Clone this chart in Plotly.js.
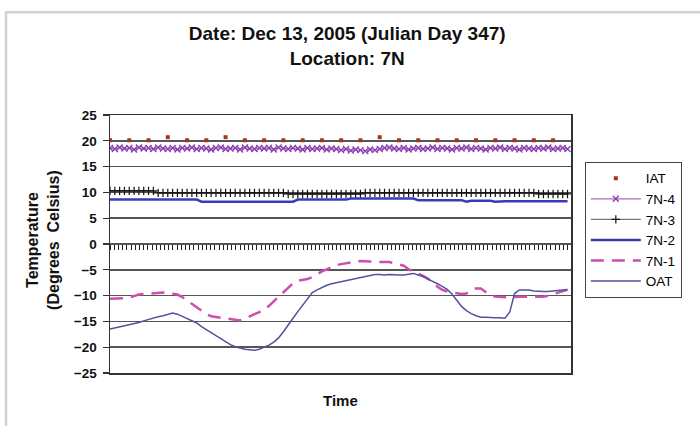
<!DOCTYPE html>
<html>
<head>
<meta charset="utf-8">
<script src="https://cdn.plot.ly/plotly-3.0.1.min.js"></script>
<style>html,body{margin:0;padding:0;background:#fff;}#chart{width:700px;height:426px;}</style>
</head>
<body>
<div id="chart"></div>
<script>
// Time of day (hours), 15-minute samples
const hours = [0,0.25,0.5,0.75,1,1.25,1.5,1.75,2,2.25,2.5,2.75,3,3.25,3.5,3.75,
4,4.25,4.5,4.75,5,5.25,5.5,5.75,6,6.25,6.5,6.75,7,7.25,7.5,7.75,
8,8.25,8.5,8.75,9,9.25,9.5,9.75,10,10.25,10.5,10.75,11,11.25,11.5,11.75,
12,12.25,12.5,12.75,13,13.25,13.5,13.75,14,14.25,14.5,14.75,15,15.25,15.5,15.75,
16,16.25,16.5,16.75,17,17.25,17.5,17.75,18,18.25,18.5,18.75,19,19.25,19.5,19.75,
20,20.25,20.5,20.75,21,21.25,21.5,21.75,22,22.25,22.5,22.75,23,23.25,23.5,23.75];

// Hourly indoor air temperature
const iatHours = [0,1,2,3,4,5,6,7,8,9,10,11,12,13,14,15,16,17,18,19,20,21,22,23];
const iat = [20.1,20.1,20.1,20.7,20.1,20.1,20.7,20.1,20.1,20.1,20.1,20.1,20.1,20.1,20.7,20.1,20.1,20.1,20.1,20.1,20.1,20.1,20.1,20.1];

const s7N4 = [18.6,18.4,18.7,18.5,18.6,18.3,18.7,18.5,18.6,18.4,18.7,18.5,18.4,18.6,18.3,18.6,
18.5,18.7,18.4,18.6,18.5,18.3,18.6,18.7,18.4,18.5,18.6,18.3,18.7,18.5,18.4,18.6,
18.5,18.6,18.3,18.7,18.5,18.4,18.6,18.5,18.3,18.6,18.4,18.5,18.6,18.3,18.5,18.4,
18.2,18.4,18.1,18.3,18.2,18.0,18.3,18.2,18.4,18.6,18.7,18.5,18.4,18.6,18.3,18.5,
18.6,18.4,18.5,18.7,18.4,18.6,18.5,18.3,18.6,18.5,18.7,18.4,18.6,18.5,18.3,18.6,
18.5,18.7,18.4,18.6,18.5,18.3,18.6,18.5,18.4,18.6,18.5,18.7,18.4,18.5,18.6,18.4];

const s7N3 = [10.3,10.3,10.3,10.3,10.3,10.3,10.3,10.3,10.3,10.3,
9.9,9.9,9.9,9.9,9.9,9.9,9.9,9.9,9.9,9.9,9.9,9.9,9.9,9.9,9.9,9.9,9.9,9.9,9.9,9.9,9.9,9.9,9.9,9.9,9.9,9.9,9.9,
9.7,9.7,9.7,9.7,9.7,9.7,9.7,9.7,9.7,9.7,9.7,9.7,9.7,9.7,9.7,9.7,
9.9,9.9,9.9,9.9,9.9,9.9,9.9,9.9,9.9,9.9,9.9,9.9,9.9,9.9,9.9,9.9,9.9,9.9,9.9,9.9,9.9,9.9,9.9,9.9,9.9,9.9,9.9,9.9,9.9,9.9,9.9,9.9,9.9,9.9,9.9,9.9,
9.7,9.7,9.7,9.7,9.7,9.7,9.7];

const s7N2 = [8.6,8.6,8.6,8.6,8.6,8.6,8.6,8.6,8.6,8.6,8.6,8.6,8.6,8.6,8.6,8.6,8.6,8.6,8.6,
8.2,8.2,8.2,8.2,8.2,8.2,8.2,8.2,8.2,8.2,8.2,8.2,8.2,8.2,8.2,8.2,8.2,8.2,8.2,8.2,
8.6,8.6,8.6,8.6,8.6,8.6,8.6,8.6,8.6,8.6,8.6,
8.8,8.8,8.8,8.8,8.8,8.8,8.8,8.8,8.8,8.8,8.8,8.8,8.8,8.8,
8.5,8.5,8.5,8.5,8.5,8.5,8.5,8.5,8.5,8.5,
8.2,
8.4,8.4,8.4,8.4,8.4,
8.2,
8.3,8.3,8.3,8.3,8.3,8.3,8.3,8.3,8.3,8.3,8.3,8.3,8.3,8.3,8.3];

const s7N1 = [-10.6,-10.6,-10.5,-10.5,-10.4,-10.1,-9.8,-9.7,-9.6,-9.5,-9.4,-9.4,-9.5,-9.6,-9.8,-10.3,
-10.8,-11.6,-12.3,-13.0,-13.6,-14.0,-14.2,-14.3,-14.4,-14.5,-14.6,-14.8,-14.5,-14.0,-13.6,-13.2,
-12.7,-12.0,-11.1,-10.3,-9.3,-8.5,-7.6,-7.1,-7.0,-6.8,-6.4,-5.8,-5.3,-4.9,-4.5,-4.1,
-3.9,-3.7,-3.5,-3.4,-3.3,-3.3,-3.4,-3.5,-3.5,-3.4,-3.5,-3.7,-3.9,-4.2,-4.9,-5.3,
-5.8,-6.2,-6.7,-7.4,-8.3,-8.9,-9.2,-9.4,-9.6,-9.7,-9.6,-8.9,-8.6,-8.6,-9.3,-10.0,
-10.2,-10.3,-10.3,-10.3,-10.2,-10.2,-10.2,-10.2,-10.3,-10.3,-10.2,-10.0,-9.7,-9.5,-9.2,-8.9];

const oat = [-16.5,-16.3,-16.1,-15.9,-15.7,-15.4,-15.2,-14.9,-14.6,-14.4,-14.1,-13.9,-13.6,-13.4,-13.6,-14.0,
-14.4,-14.8,-15.3,-16.0,-16.6,-17.1,-17.7,-18.4,-19.0,-19.5,-19.9,-20.2,-20.4,-20.5,-20.6,-20.4,
-20.0,-19.6,-19.0,-18.2,-17.0,-15.8,-14.4,-13.1,-11.8,-10.6,-9.4,-8.9,-8.4,-8.0,-7.7,-7.5,
-7.3,-7.0,-6.8,-6.6,-6.4,-6.2,-6.0,-5.9,-5.9,-6.0,-5.9,-6.0,-6.0,-6.0,-5.8,-5.7,
-6.0,-6.3,-6.8,-7.2,-7.7,-8.2,-8.8,-9.7,-11.0,-12.1,-12.9,-13.5,-13.9,-14.2,-14.2,-14.3,
-14.3,-14.3,-14.4,-13.2,-9.6,-8.9,-8.9,-8.9,-9.1,-9.2,-9.2,-9.2,-9.1,-9.1,-9.0,-8.8];

const seriesNames = ['IAT','7N-4','7N-3','7N-2','7N-1','OAT'];
const yTicks = [-25,-20,-15,-10,-5,0,5,10,15,20,25];

const FONT = 'Liberation Sans, Arial, Helvetica, sans-serif';
const xr = [0, 23.93];

const traces = [
  {x: iatHours, y: iat, name: seriesNames[0], legendgroup:'a', mode:'markers', xaxis:'x2',
   marker:{symbol:'square', size:4, color:'#A3341F'}},
  {x: hours, y: s7N4, name: seriesNames[1], legendgroup:'b', mode:'lines+markers',
   line:{color:'#A66BC7', width:1.2}, marker:{symbol:'x-thin', size:6, line:{color:'#8A3CB0', width:1.3}, color:'#8A3CB0'}},
  {x: hours, y: s7N3, name: seriesNames[2], legendgroup:'c', mode:'lines+markers',
   line:{color:'#7C7C66', width:1.2}, marker:{symbol:'cross-thin', size:6, line:{color:'#111', width:1.2}, color:'#111'}},
  {x: hours, y: s7N2, name: seriesNames[3], legendgroup:'d', mode:'lines',
   line:{color:'#3A3AB8', width:2.5}},
  {x: hours, y: s7N1, name: seriesNames[4], legendgroup:'e', mode:'lines',
   line:{color:'#CC4FAE', width:2.5, dash:'13px,8px'}},
  {x: hours, y: oat, name: seriesNames[5], legendgroup:'f', mode:'lines',
   line:{color:'#52529E', width:1.5}}
];

const layout = {
  width:700, height:426,
  paper_bgcolor:'#ffffff', plot_bgcolor:'#ffffff',
  margin:{l:110, r:129, t:115, b:52.5, pad:0},
  font:{family:FONT, color:'#000'},
  title:{text:'<b>Date: Dec 13, 2005 (Julian Day 347)<br>Location: 7N</b>',
    font:{family:FONT, size:19, color:'#111'},
    x:0.496, xanchor:'center', xref:'container', y:0.905, yanchor:'top', yref:'container'},
  showlegend:true,
  legend:{x:1.03, xanchor:'left', y:0.818, yanchor:'top',
    bordercolor:'#444', borderwidth:1, bgcolor:'#fff', itemwidth:50,
    font:{family:FONT, size:13.5, color:'#000'}, tracegroupgap:10, traceorder:'normal'},
  xaxis:{range:xr, showgrid:false, zeroline:false, showline:true, mirror:true,
    linecolor:'#333', linewidth:1.5, ticks:'', showticklabels:false},
  xaxis2:{range:xr, overlaying:'x', anchor:'free', position:0.5, side:'bottom',
    showgrid:false, zeroline:false, showline:false, ticks:'outside', ticklen:5,
    tickwidth:1, tickcolor:'#222', tick0:0, dtick:0.218, showticklabels:false},
  yaxis:{range:[-25,25], tickvals:yTicks, showgrid:true, gridcolor:'#555', gridwidth:1.5,
    zeroline:false, showline:true, mirror:true, linecolor:'#333', linewidth:1.5,
    ticks:'outside', ticklen:6, tickcolor:'#333', tickwidth:1.2, ticklabelstandoff:3,
    tickfont:{family:FONT, size:13.5, color:'#111', weight:'bold'}},
  annotations:[
    {text:'<b>Temperature<br>(Degrees&nbsp;&nbsp;Celsius)</b>', textangle:-90,
     xref:'paper', yref:'paper', x:-0.1453, y:0.516, xanchor:'center', yanchor:'middle',
     showarrow:false, font:{family:FONT, size:16, color:'#111'}},
    {text:'<b>Time</b>', xref:'paper', yref:'paper', x:0.5, y:-0.106,
     xanchor:'center', yanchor:'middle', showarrow:false, font:{family:FONT, size:15, color:'#111'}}
  ],
  shapes:[
    {type:'rect', xref:'paper', yref:'paper', x0:-0.2256, x1:1.45, y0:-0.4, y1:1.3985,
     line:{color:'#d2d2d2', width:2.5}, fillcolor:'rgba(0,0,0,0)', layer:'below'}
  ]
};

Plotly.newPlot('chart', traces, layout, {displayModeBar:false, staticPlot:true});
</script>
</body>
</html>
